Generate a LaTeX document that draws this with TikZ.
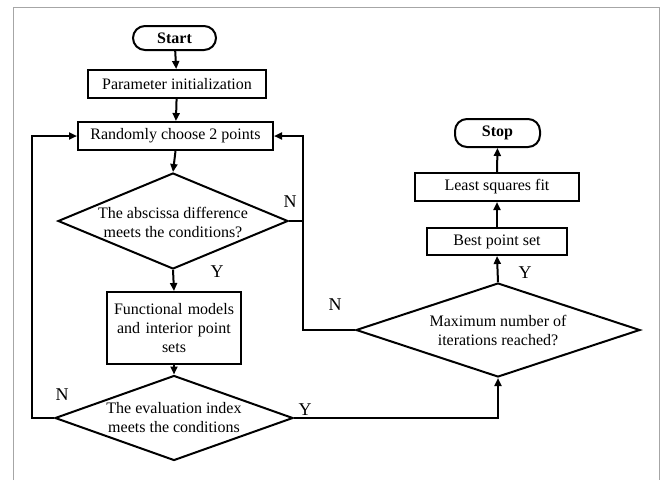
\documentclass[tikz,border=0pt]{standalone}
\usepackage{fontspec}
\setmainfont{Liberation Serif}
\usetikzlibrary{shapes.geometric,arrows.meta}
\begin{document}
\begin{tikzpicture}[x=1pt,y=-1pt,
  every node/.style={font=\fontsize{16}{19}\selectfont},
  box/.style={draw,line width=2pt,inner sep=0pt,align=center},
  term/.style={box,rounded corners=12pt,font=\fontsize{16}{19}\selectfont\bfseries},
  dec/.style={draw,line width=2pt,shape=diamond,inner sep=0pt},
  txt/.style={align=center,inner sep=0pt},
  lbl/.style={font=\fontsize{18}{20}\selectfont},
  arr/.style={line width=2pt,-{Triangle[length=8pt,width=7pt]}},
  ln/.style={line width=2pt},
  frame/.style={draw=gray!70,line width=1pt}]
\useasboundingbox (0,0) rectangle (662,480);
\draw[frame] (13,480) -- (13,7) -- (659,7) -- (659,480);

\node[term,minimum width=83pt,minimum height=24pt] (start) at (174.5,38) {Start};
\node[box,minimum width=178pt,minimum height=28pt] (param) at (177,84) {Parameter initialization};
\node[box,minimum width=195pt,minimum height=28pt] (rand) at (175.5,136) {Randomly choose 2 points};
\node[dec,minimum width=230pt,minimum height=96pt] (d1) at (173,221) {};
\node[txt] (t1) at (173,222) {The abscissa difference\\meets the conditions?};
\node[box,minimum width=134pt,minimum height=72pt,text width=130pt] (func) at (174,328) {Functional models\\and interior point\\sets};
\node[dec,minimum width=238pt,minimum height=85pt] (d2) at (174,418) {};
\node[txt] (t2) at (174,418) {The evaluation index\\meets the conditions};

\node[dec,minimum width=284pt,minimum height=94pt] (maxd) at (498,330) {};
\node[txt] (t3) at (498,330) {Maximum number of\\iterations reached?};
\node[box,minimum width=140pt,minimum height=27pt] (best) at (497,241.5) {Best point set};
\node[box,minimum width=164pt,minimum height=28pt] (lsq) at (497,187) {Least squares fit};
\node[term,minimum width=85pt,minimum height=28pt] (stop) at (497.5,133) {Stop};

\coordinate (lx) at (32,418);
\coordinate (rx) at (303,330);

\draw[arr] (start) -- (param);
\draw[arr] (param) -- (rand);
\draw[arr] (rand.south) -- (d1.north);
\draw[arr] (d1.south) -- (func.north);
\draw[arr] (func.south) -- (d2.north);
\draw[arr] (d2.west) -- (lx) |- (rand.west);
\draw[arr] (maxd.west) -- (rx) |- (rand.east);
\draw[ln] (d1.east) -- (rx |- d1.east);
\draw[arr] (d2.east) -| (maxd.south);
\draw[arr] (maxd.north) -- (best.south);
\draw[arr] (best.north) -- (lsq.south);
\draw[arr] (lsq.north) -- (stop.south);

\node[lbl] (n1) at (290,202) {N};
\node[lbl] (y1) at (217,272) {Y};
\node[lbl] (n2) at (62,395) {N};
\node[lbl] (y2) at (305,410) {Y};
\node[lbl] (n3) at (335,305) {N};
\node[lbl] (y3) at (525,273) {Y};
\end{tikzpicture}
\end{document}
